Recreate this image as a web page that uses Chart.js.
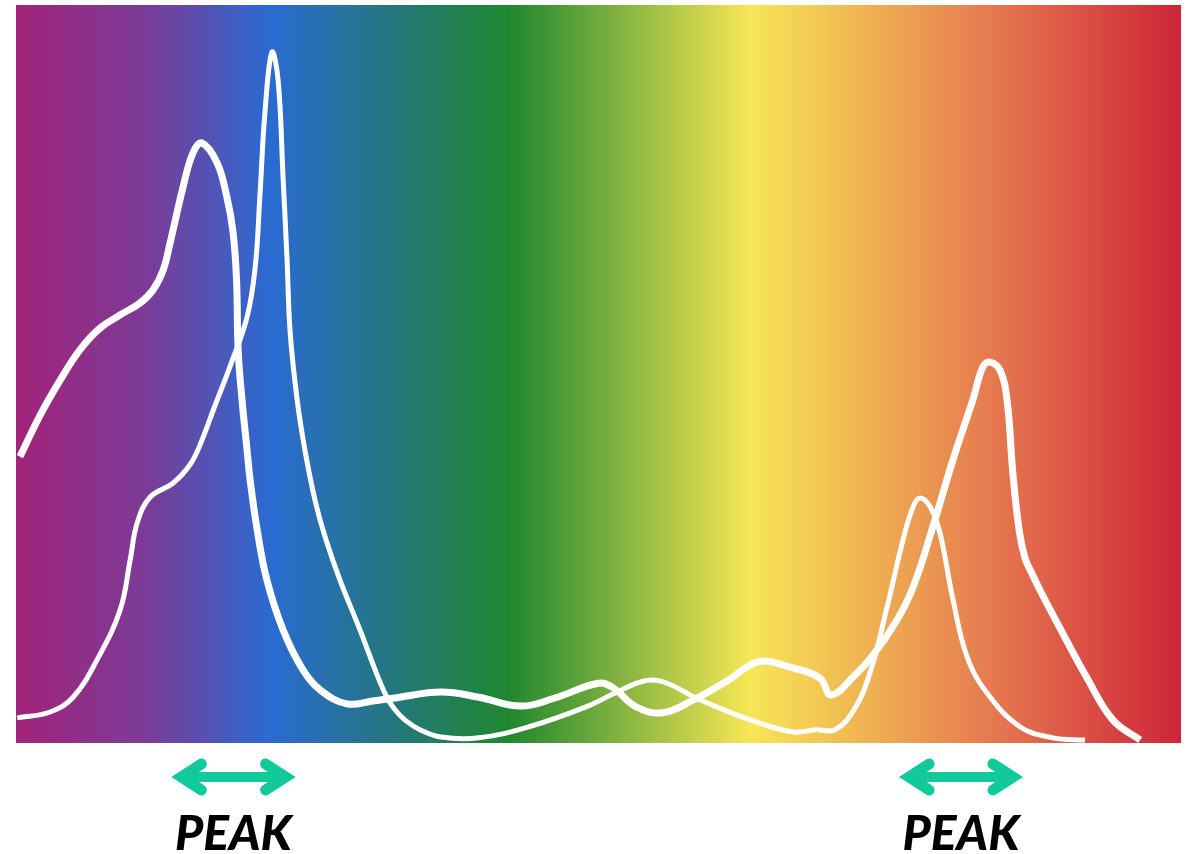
<!DOCTYPE html>
<html>
<head>
<meta charset="utf-8">
<script src="https://cdn.jsdelivr.net/npm/chart.js@4/dist/chart.umd.min.js"></script>
<style>
  html, body { margin: 0; padding: 0; background: #fff; }
  #wrap { width: 1192px; height: 854px; }
</style>
</head>
<body>
<div id="wrap"><canvas id="myChart" width="1192" height="854"></canvas></div>
<script>
// wavelength (nm) vs relative absorbance
let thickWavelengths = [401.0, 406.2, 411.3, 416.5, 421.6, 426.8, 431.9, 435.3, 437.9, 439.7,
    443.0, 445.6, 447.9, 451.8, 454.3, 455.9, 456.8, 457.2, 458.2, 459.5,
    460.3, 462.1, 464.6, 468.8, 473.9, 478.3, 485.2, 491.9, 497.6, 509.4,
    519.2, 530.0, 538.8, 549.9, 553.7, 559.7, 566.6, 574.3, 583.4, 591.1,
    599.1, 607.0, 609.9, 615.5, 620.7, 626.9, 631.0, 636.1, 641.3, 646.4,
    649.0, 650.8, 653.4, 655.2, 656.7, 658.3, 659.8, 661.4, 663.7, 668.8,
    675.8, 682.5, 689.5]
let thickAbsorbance = [38.8, 44.4, 49.1, 53.3, 56.2, 58.0, 59.6, 61.4, 64.1, 67.8,
    75.3, 80.0, 81.3, 78.6, 74.0, 69.2, 62.7, 53.3, 46.5, 39.7,
    35.6, 28.9, 22.1, 15.3, 9.9, 7.2, 5.3, 5.7, 6.1, 6.9,
    6.2, 5.0, 6.1, 8.1, 7.5, 4.9, 4.1, 5.8, 8.5, 11.0,
    10.3, 8.8, 6.5, 8.9, 11.9, 16.7, 21.1, 29.3, 38.4, 46.5,
    51.0, 51.6, 50.5, 46.5, 36.6, 28.9, 25.1, 23.2, 20.7, 15.6,
    8.8, 3.1, 0.4]

let thinWavelengths = [400.3, 408.8, 414.7, 420.9, 426.8, 429.4, 431.2, 434.5, 440.4, 444.8,
    447.4, 451.3, 455.1, 459.5, 461.6, 462.8, 464.1, 465.9, 467.5, 468.8,
    469.8, 470.6, 472.4, 474.4, 477.0, 479.6, 483.4, 488.6, 493.0, 495.5,
    497.6, 500.2, 504.0, 509.4, 519.2, 532.1, 546.8, 554.8, 561.7, 566.6,
    576.4, 589.3, 600.1, 606.0, 610.9, 615.8, 619.9, 624.3, 628.4, 631.0,
    632.8, 635.4, 637.9, 641.3, 644.9, 650.0, 658.5, 667.0, 675.3]
let thinAbsorbance = [3.4, 4.2, 6.2, 11.3, 18.0, 24.8, 29.8, 33.3, 35.2, 37.7,
    40.4, 45.8, 51.0, 57.7, 64.5, 74.0, 85.4, 93.6, 89.8, 76.3,
    65.5, 55.6, 46.5, 39.7, 32.9, 27.9, 22.1, 15.3, 9.2, 6.2,
    4.5, 3.1, 1.8, 0.8, 0.7, 2.2, 4.9, 6.9, 8.4, 8.3,
    5.8, 3.1, 1.5, 1.8, 1.8, 4.5, 9.5, 18.4, 27.5, 32.0,
    33.2, 32.0, 28.5, 19.4, 11.7, 6.8, 2.2, 0.7, 0.4]

// peak bands marked under the chart (nm)
let peakStarts = [440.0, 627.4]
let peakEnds = [472.0, 659.3]
let peakLabels = ["PEAK", "PEAK"]

// spectrum colours, left to right
let spectrumStops = [0, 0.115, 0.218, 0.33, 0.423, 0.63, 0.75, 0.836, 1]
let spectrumColors = ['#a2237a', '#7a3c98', '#2a6bd2', '#237878', '#20872f',
    '#f7e655', '#eda852', '#e67a50', '#cd2538']

function toPoints(xs, ys) {
    return xs.map((x, i) => ({ x: x, y: ys[i] }))
}

const spectrumBackground = {
    id: 'spectrumBackground',
    beforeDatasetsDraw(chart) {
        const { ctx, chartArea } = chart
        const g = ctx.createLinearGradient(chartArea.left, 0, chartArea.right, 0)
        spectrumStops.forEach((s, i) => g.addColorStop(s, spectrumColors[i]))
        ctx.save()
        ctx.fillStyle = g
        ctx.fillRect(chartArea.left, chartArea.top, chartArea.right - chartArea.left, chartArea.bottom - chartArea.top)
        ctx.restore()
    }
}

const peakMarkers = {
    id: 'peakMarkers',
    afterDraw(chart) {
        const { ctx, chartArea } = chart
        const xs = chart.scales.x
        const y = chartArea.bottom + 34
        ctx.save()
        ctx.strokeStyle = '#12c99c'
        ctx.lineCap = 'round'
        ctx.lineJoin = 'miter'
        peakStarts.forEach((start, i) => {
            const x1 = xs.getPixelForValue(start)
            const x2 = xs.getPixelForValue(peakEnds[i])
            ctx.lineWidth = 10
            ctx.beginPath()
            ctx.moveTo(x1 + 12, y)
            ctx.lineTo(x2 - 12, y)
            ctx.stroke()
            ctx.lineWidth = 11
            ctx.beginPath()
            ctx.moveTo(x1 + 30, y - 13)
            ctx.lineTo(x1 + 10, y)
            ctx.lineTo(x1 + 30, y + 13)
            ctx.moveTo(x2 - 30, y - 13)
            ctx.lineTo(x2 - 10, y)
            ctx.lineTo(x2 - 30, y + 13)
            ctx.stroke()

            ctx.fillStyle = '#000'
            ctx.font = 'italic 900 48px Lato'
            ctx.textAlign = 'center'
            ctx.textBaseline = 'alphabetic'
            ctx.fillText(peakLabels[i], (x1 + x2) / 2, chartArea.bottom + 107)
        })
        ctx.restore()
    }
}

var ctx = document.getElementById('myChart').getContext('2d')
var myChart = new Chart(ctx, {
    type: 'line',
    data: {
        datasets: [{
            label: 'Pigment 1',
            data: toPoints(thickWavelengths, thickAbsorbance),
            borderColor: '#ffffff',
            borderWidth: 7,
            pointRadius: 0,
            tension: 0.4,
            fill: false
        }, {
            label: 'Pigment 2',
            data: toPoints(thinWavelengths, thinAbsorbance),
            borderColor: '#ffffff',
            borderWidth: 5,
            pointRadius: 0,
            tension: 0.4,
            fill: false
        }]
    },
    options: {
        responsive: false,
        animation: false,
        devicePixelRatio: 1,
        layout: { padding: { left: 16, right: 11, top: 5, bottom: 111 } },
        plugins: {
            legend: { display: false },
            tooltip: { enabled: false }
        },
        scales: {
            x: { type: 'linear', min: 400, max: 700, display: false },
            y: { min: 0, max: 100, display: false }
        }
    },
    plugins: [spectrumBackground, peakMarkers]
});
</script>
</body>
</html>
